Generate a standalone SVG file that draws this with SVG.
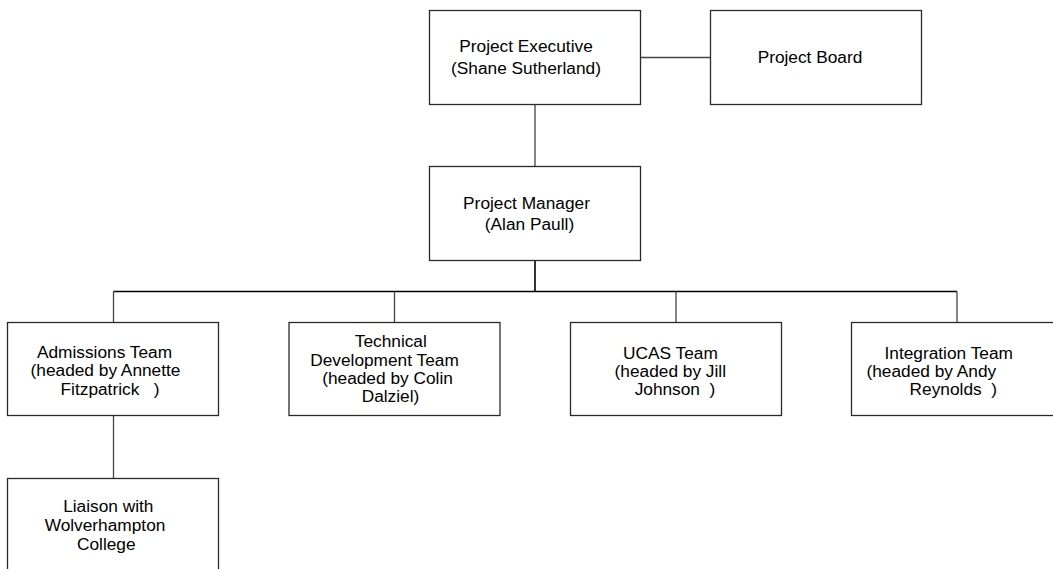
<svg xmlns="http://www.w3.org/2000/svg" width="1053" height="569" viewBox="0 0 1053 569">
<style>
.box{fill:#fff;stroke:#2a2a2a;stroke-width:1.3}
.t{font-family:"Liberation Sans",Arial,sans-serif;font-size:17.3px;fill:#000;text-anchor:middle;white-space:pre}
.c{stroke:#444;stroke-width:1.3;fill:none}
.cb{stroke:#000;stroke-width:1.6;fill:none}
</style>
<rect width="1053" height="569" fill="#fff"/>
<g id="connectors">
<line class="c" x1="640.5" y1="57.5" x2="710.5" y2="57.5"/>
<line class="c" x1="535" y1="104.5" x2="535" y2="166.5"/>
<line class="cb" x1="535" y1="260.5" x2="535" y2="291.5" stroke-width="2"/>
<line class="cb" x1="113.5" y1="291.5" x2="957" y2="291.5"/>
<line class="c" x1="113.5" y1="291.5" x2="113.5" y2="322.5"/>
<line class="c" x1="394.5" y1="291.5" x2="394.5" y2="322.5"/>
<line class="c" x1="676" y1="291.5" x2="676" y2="322.5"/>
<line class="c" x1="957" y1="291.5" x2="957" y2="322.5"/>
<line class="c" x1="113.5" y1="415.5" x2="113.5" y2="478.5"/>
</g>
<g id="exec">
<rect class="box" x="429.5" y="10.5" width="211" height="94"/>
<text class="t" x="526" y="52">Project Executive</text>
<text class="t" x="526" y="74">(Shane Sutherland)</text>
</g>
<g id="board">
<rect class="box" x="710.5" y="10.5" width="211" height="94"/>
<text class="t" x="810" y="62.5">Project Board</text>
</g>
<g id="pm">
<rect class="box" x="429.5" y="166.5" width="211" height="94"/>
<text class="t" x="526.5" y="209">Project Manager</text>
<text class="t" x="529.5" y="229.7">(Alan Paull)</text>
</g>
<g id="admissions">
<rect class="box" x="7.5" y="322.5" width="211" height="93"/>
<text class="t" x="104.5" y="358">Admissions Team</text>
<text class="t" x="105.5" y="376.3">(headed by Annette</text>
<text class="t" x="110" y="394.6">Fitzpatrick   )</text>
</g>
<g id="technical">
<rect class="box" x="289" y="322.5" width="211" height="93"/>
<text class="t" x="390.8" y="347.4">Technical</text>
<text class="t" x="384.5" y="365.7">Development Team</text>
<text class="t" x="387.5" y="384">(headed by Colin</text>
<text class="t" x="390.5" y="402.3">Dalziel)</text>
</g>
<g id="ucas">
<rect class="box" x="570.5" y="322.5" width="211" height="93"/>
<text class="t" x="670.5" y="358.5">UCAS Team</text>
<text class="t" x="670.3" y="376.8">(headed by Jill</text>
<text class="t" x="675" y="395">Johnson  )</text>
</g>
<g id="integration">
<rect class="box" x="851.5" y="322.5" width="211" height="93"/>
<text class="t" x="948.7" y="358.5">Integration Team</text>
<text class="t" x="931.3" y="376.8">(headed by Andy</text>
<text class="t" x="953.3" y="395">Reynolds  )</text>
</g>
<g id="liaison">
<rect class="box" x="7.5" y="478.5" width="211" height="100"/>
<text class="t" x="108.3" y="511.5">Liaison with</text>
<text class="t" x="105" y="530.8">Wolverhampton</text>
<text class="t" x="106.3" y="550">College</text>
</g>
</svg>
